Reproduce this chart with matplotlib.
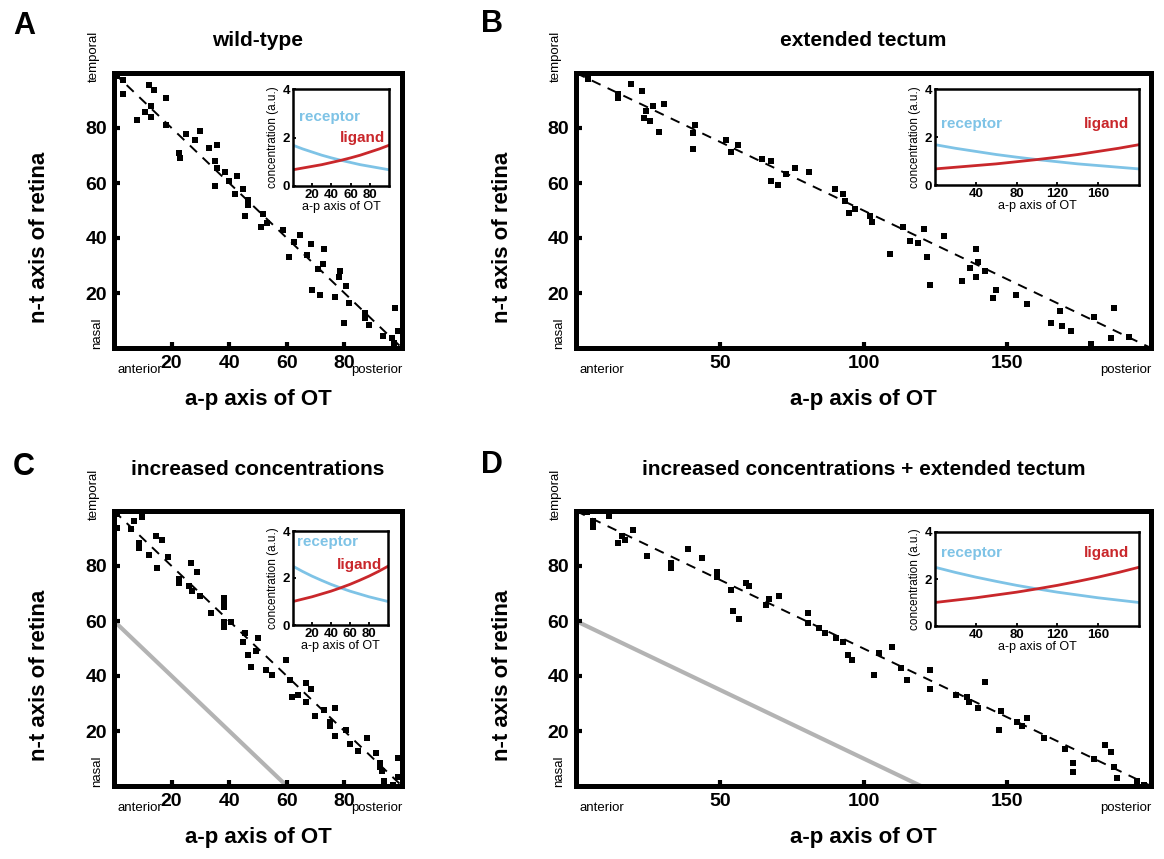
import numpy as np
import matplotlib
matplotlib.use("Agg")
import matplotlib.pyplot as plt

plt.rcParams['font.family'] = ['Liberation Sans', 'DejaVu Sans']

# ---- data ----
# A: wild-type (a-p axis 0..100)
wt_x = [1, 3, 3, 12, 14, 18, 10.7, 13, 13, 8, 18, 25, 28, 30, 22.6, 23, 33, 35.6, 35, 35.6,
        35, 38.7, 40, 42.6, 42, 44.7, 46.7, 46.7, 45.5, 51.7, 53, 51, 58.6, 60.7, 62.5, 64.5,
        67, 68.5, 72.8, 72.6, 71, 68.6, 71.4, 78.4, 78, 80.7, 76.7, 81.6, 80, 87, 87, 88.4,
        93.5, 96.7, 97.2, 97.5, 98.7]
wt_y = [99, 97.5, 92.5, 95.7, 94, 91, 86, 88, 84, 83, 81, 78, 75.7, 79, 71, 69, 72.6, 73.7, 68,
        65.6, 59, 64, 60.7, 62.5, 56, 58, 54, 52, 48, 48.7, 45.5, 44, 42.8, 33, 38.4, 41,
        34, 38, 36, 30.7, 28.7, 21, 19.2, 28, 26, 22.6, 18.5, 16.3, 9.2, 12.7, 11, 8.4,
        4.4, 3.5, 1.7, 14.5, 6.2]

# B: extended tectum (a-p axis 0..200)
ext_x = [4, 14.6, 14.6, 19, 23, 24.4, 23.6, 25.9, 26.8, 28.8, 30.7, 41.4, 40.7, 40.7, 52.1,
         53.8, 56.2, 64.6, 67.8, 67.8, 70.1, 73, 76.2, 80.9, 90, 93, 93.7, 94.9, 97, 102.3,
         103, 109.1, 113.7, 116, 118.9, 120.9, 122.1, 123, 128, 134.1, 137, 139.1, 139.9,
         139.1, 142.2, 146.1, 145.1, 152.9, 157, 165.2, 168.4, 169, 172.1, 180, 179, 187,
         186.2, 192.2]
ext_y = [98, 92.3, 90.8, 96, 93.5, 86.2, 83.8, 82.6, 88.1, 78.6, 88.9, 81, 78.1, 72.5, 75.7,
         71.1, 74, 68.6, 68, 60.9, 59.1, 63.1, 65.6, 64, 57.7, 56.1, 53.4, 49.2, 50.7, 47.9,
         45.9, 34.3, 43.9, 39, 38.2, 43.1, 33, 22.9, 40.9, 24.2, 29.1, 36, 31.1,
         25.8, 28.1, 21.2, 18.1, 19.1, 16.1, 9.2, 13.6, 8.1, 6.3, 11.2, 1.5, 14.5,
         3.5, 4.1]

# C: increased concentrations (a-p axis 0..100)
inc_x = [1, 1, 5.8, 7, 9.6, 8.7, 8.7, 12, 14.7, 16.8, 14.9, 18.8, 22.6, 22.6, 26.7, 28.7,
         26.1, 27, 29.9, 33.7, 38.3, 38.3, 38.3, 38.3, 38.3, 40.7, 45.5, 44.7, 49.9, 46.6,
         47.6, 49.4, 52.9, 54.8, 59.8, 61, 61.9, 63.9, 66.8, 68.5, 66.8, 69.7, 72.8, 76.7,
         74.9, 74.9, 76.7, 80.7, 81.9, 84.8, 87.7, 90.8, 92.3, 92.3, 93.1, 93.7, 98.7,
         98.7, 97]
inc_y = [99, 94, 93.5, 96.5, 98, 88.2, 86.4, 84, 91, 89.4, 79.4, 83.1, 75.1, 73.9, 81.2, 77.9,
         72.7, 70.8, 69, 62.9, 68.4, 66.5, 65, 59.6, 58, 59.6, 55.8, 52.5, 53.7, 47.6,
         43.3, 49, 42.3, 40.2, 45.7, 38.4, 32.5, 33.1, 37.4, 35.3, 30.4, 25.3, 27.7, 28.2,
         23.1, 21.9, 18.2, 20.3, 15.1, 12.9, 17.3, 12.1, 8.4, 6.8, 5.3, 2, 10.2,
         3.3, 0.4]

# D: increased concentrations + extended tectum (a-p axis 0..200)
incext_x = [3.8, 5.9, 5.9, 11.6, 14.6, 16, 17.2, 19.9, 24.6, 32.9, 32.9, 39, 43.7, 49.2, 49.2,
            53.8, 59.1, 60, 54.6, 56.7, 67, 66.1, 70.7, 80.6, 80.6, 84.6, 86.7, 90.5, 92.8,
            94.5, 96.1, 105.3, 103.8, 109.9, 112.9, 115.2, 123, 123, 132.3, 136, 136.7,
            139.9, 142.2, 147.8, 147.1, 153.3, 155, 157, 162.8, 170.1, 173, 173, 180,
            184.1, 186.2, 187, 188.2, 195.2, 197.5]
incext_y = [99.6, 96.2, 94.1, 98.1, 88.2, 91, 89.4, 93.2, 83.8, 81.2, 79.4, 86.1, 82.8, 77.9,
            76, 71.1, 73.9, 72.7, 63.7, 60.8, 68, 65.9, 69, 62.9, 59.2, 57.6, 55.8, 53.7,
            52.5, 47.6, 45.7, 48.5, 40.2, 50.4, 42.9, 38.4, 42.3, 35.1, 33.2, 32.3, 30.4,
            28.2, 37.8, 27.4, 20.4, 23.1, 21.9, 24.9, 17.6, 13.3, 8.2, 5, 9.9,
            14.8, 12.3, 6.9, 2.9, 1.7, 0.4]

# inset gradients (concentration, a.u.), sampled every tenth of the axis
receptor_normal = [1.68, 1.53, 1.40, 1.27, 1.16, 1.06, 0.97, 0.88, 0.81, 0.74, 0.67]
ligand_normal = receptor_normal[::-1]
receptor_high = [2.50, 2.28, 2.08, 1.90, 1.73, 1.58, 1.44, 1.32, 1.20, 1.10, 1.00]
ligand_high = receptor_high[::-1]
inset_frac = [0, 0.1, 0.2, 0.3, 0.4, 0.5, 0.6, 0.7, 0.8, 0.9, 1.0]

RECEPTOR_C = '#7ec3e6'
LIGAND_C = '#c9272b'
GREY_C = '#b3b3b3'

W, H = 1164, 859
fig = plt.figure(figsize=(W / 100, H / 100), dpi=100)


def rect(x0, y0, x1, y1):
    # pixel box (top-left origin) -> figure fraction rect
    return [x0 / W, 1 - y1 / H, (x1 - x0) / W, (y1 - y0) / H]


def panel(box, inbox, xs, ys, xmax, xticks, inticks, title, title_gap, letter, letter_xy,
          receptor, ligand, rec_xy, lig_xy, grey=None):
    x0, y0, x1, y1 = box
    wpx, hpx = x1 - x0, y1 - y0
    ax = fig.add_axes(rect(*box))
    ax.set_xlim(0, xmax)
    ax.set_ylim(0, 100)

    ax.plot([0, xmax], [100, 0], color='black', lw=1.4, dashes=(5, 4), zorder=2)
    if grey is not None:
        ax.plot(grey[0], grey[1], color=GREY_C, lw=3, zorder=1, solid_capstyle='butt')
    ax.scatter(xs, ys, marker='s', s=17, c='black', linewidths=0, clip_on=False, zorder=3)

    for sp in ax.spines.values():
        sp.set_linewidth(3.6)
    ax.set_xticks(xticks)
    ax.set_yticks([20, 40, 60, 80])
    ax.tick_params(direction='in', length=4, width=3, labelsize=14, pad=5)
    for lab in ax.get_xticklabels() + ax.get_yticklabels():
        lab.set_fontweight('bold')

    ax.text(-20 / wpx, 1 + 17 / hpx, 'temporal', rotation=90, fontsize=9.5,
            ha='center', va='center', transform=ax.transAxes)
    ax.text(-17 / wpx, 15 / hpx, 'nasal', rotation=90, fontsize=9.5,
            ha='center', va='center', transform=ax.transAxes)
    ax.text(26 / wpx, -22 / hpx, 'anterior', fontsize=9.5,
            ha='center', va='center', transform=ax.transAxes)
    ax.text(1 - 25 / wpx, -22 / hpx, 'posterior', fontsize=9.5,
            ha='center', va='center', transform=ax.transAxes)
    ax.text(-74 / wpx, 111 / hpx, 'n-t axis of retina', rotation=90, fontsize=16,
            fontweight='bold', ha='center', va='center', transform=ax.transAxes)
    ax.text(0.5, -52 / hpx, 'a-p axis of OT', fontsize=16, fontweight='bold',
            ha='center', va='center', transform=ax.transAxes)
    ax.text(0.5, 1 + title_gap / hpx, title, fontsize=15, fontweight='bold',
            ha='center', va='center', transform=ax.transAxes)
    fig.text(letter_xy[0] / W, 1 - letter_xy[1] / H, letter, fontsize=22,
             fontweight='bold', ha='center', va='center')

    # inset with the gradients
    ia = fig.add_axes(rect(*inbox))
    gx = [f * xmax for f in inset_frac]
    ia.plot(gx, receptor, color=RECEPTOR_C, lw=2)
    ia.plot(gx, ligand, color=LIGAND_C, lw=2)
    ia.set_xlim(0, xmax)
    ia.set_ylim(0, 4)
    ia.set_xticks(inticks)
    ia.set_yticks([0, 2, 4])
    for sp in ia.spines.values():
        sp.set_linewidth(1.8)
    ia.tick_params(direction='in', length=2.5, width=1.3, labelsize=9.5, pad=2)
    for lab in ia.get_xticklabels() + ia.get_yticklabels():
        lab.set_fontweight('bold')
    ia.set_ylabel('concentration (a.u.)', fontsize=8.5, labelpad=3)
    ia.set_xlabel('a-p axis of OT', fontsize=9, labelpad=0)
    ia.text(rec_xy[0] * xmax, rec_xy[1], 'receptor', color=RECEPTOR_C, fontsize=11,
            fontweight='bold', ha='left', va='center')
    ia.text(lig_xy[0] * xmax, lig_xy[1], 'ligand', color=LIGAND_C, fontsize=11,
            fontweight='bold', ha='right', va='center')
    return ax


panel((114, 73, 402, 348), (293, 89, 389, 186), wt_x, wt_y, 100, [20, 40, 60, 80],
      [20, 40, 60, 80], 'wild-type', 32, 'A', (24, 26),
      receptor_normal, ligand_normal, (0.06, 2.85), (0.96, 1.98))
panel((576, 73, 1151, 348), (935, 89, 1139, 185), ext_x, ext_y, 200, [50, 100, 150],
      [40, 80, 120, 160], 'extended tectum', 32, 'B', (492, 24),
      receptor_normal, ligand_normal, (0.03, 2.55), (0.95, 2.55))
panel((114, 511, 402, 786), (293, 531, 388, 625), inc_x, inc_y, 100, [20, 40, 60, 80],
      [20, 40, 60, 80], 'increased concentrations', 42, 'C', (24, 467),
      receptor_high, ligand_high, (0.04, 3.55), (0.94, 2.55),
      grey=([0, 0, 60], [100, 60, 0]))
panel((576, 511, 1151, 786), (935, 532, 1139, 626), incext_x, incext_y, 200, [50, 100, 150],
      [40, 80, 120, 160], 'increased concentrations + extended tectum', 42, 'D', (492, 465),
      receptor_high, ligand_high, (0.03, 3.1), (0.95, 3.1),
      grey=([0, 0, 120], [100, 60, 0]))

fig.savefig('out.png', dpi=100)
